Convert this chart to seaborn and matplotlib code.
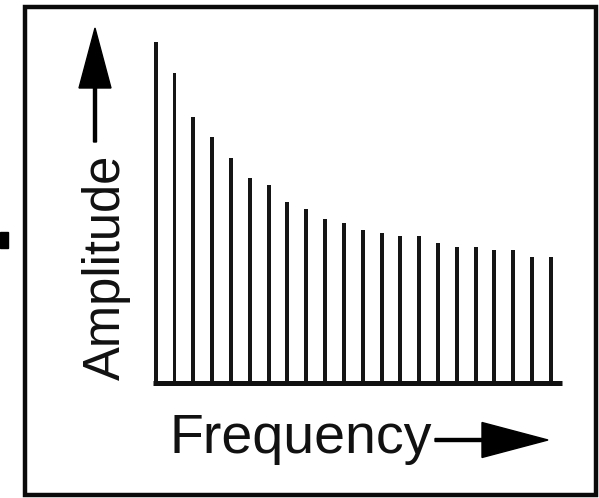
import matplotlib
matplotlib.use("Agg")
import matplotlib.pyplot as plt
import matplotlib.patches as mpatches
from matplotlib.transforms import IdentityTransform
import seaborn as sns
import pandas as pd

# harmonic amplitudes (relative, fundamental = 100)
harmonics = list(range(1, 23))
amplitude = [100, 91, 78, 72, 66, 60, 58, 53, 51, 48, 47, 45,
             44, 43, 43, 41, 40, 40, 39, 39, 37, 37]
x_label = "Frequency"
y_label = "Amplitude"

df = pd.DataFrame({"harmonic": harmonics, "amplitude": amplitude})

sns.set_style("white")
plt.rcParams["font.family"] = ["Liberation Sans", "DejaVu Sans"]

W, H = 599, 498
fig = plt.figure(figsize=(W / 100, H / 100), dpi=100)

# axes placed in pixels: first stem at 155.7px, spacing 18.82px, baseline 115px from bottom
step = 18.82
x0px = 155.7
lo, hi = -0.5, 22.0
ax = fig.add_axes([(x0px + lo * step) / W, 115 / H, (hi - lo) * step / W, 341 / H])

sns.barplot(data=df, x="harmonic", y="amplitude", color="#151515",
            width=0.21, saturation=1, linewidth=0, ax=ax, native_scale=False)

ax.set_xlim(lo, hi)
ax.set_ylim(0, 100)
ax.set_xlabel("")
ax.set_ylabel("")
ax.set_xticks([])
ax.set_yticks([])
for s in ["top", "right", "left"]:
    ax.spines[s].set_visible(False)
ax.spines["bottom"].set_color("#111111")
ax.spines["bottom"].set_linewidth(3.6)
ax.spines["bottom"].set_bounds(-0.12, 21.6)
ax.spines["bottom"].set_capstyle("butt")
ax.patch.set_alpha(0)

px = IdentityTransform()

# outer frame
fig.add_artist(mpatches.Rectangle((25, 3), 571, 488.5, fill=False,
                                  edgecolor="#0a0a0a", linewidth=3.2,
                                  transform=px))
# small black square at left
fig.add_artist(mpatches.Rectangle((0, H - 248), 8, 16, color="black",
                                  transform=px))

# axis labels
fig.text(106, H - 267, y_label, rotation=90, ha="center", va="center",
         fontsize=36.5, color="#111111", transform=px)
fig.text(169, H - 453, x_label, ha="left", va="baseline",
         fontsize=40, color="#111111", transform=px)

# arrows
fig.add_artist(mpatches.FancyArrow(95, H - 142, 0, 114, width=3,
                                   head_width=32, head_length=60,
                                   length_includes_head=True,
                                   color="black", transform=px))
fig.add_artist(mpatches.FancyArrow(435, H - 440, 113, 0, width=3,
                                   head_width=35, head_length=66,
                                   length_includes_head=True,
                                   color="black", transform=px))

fig.savefig("out.png", dpi=100, facecolor="white")
